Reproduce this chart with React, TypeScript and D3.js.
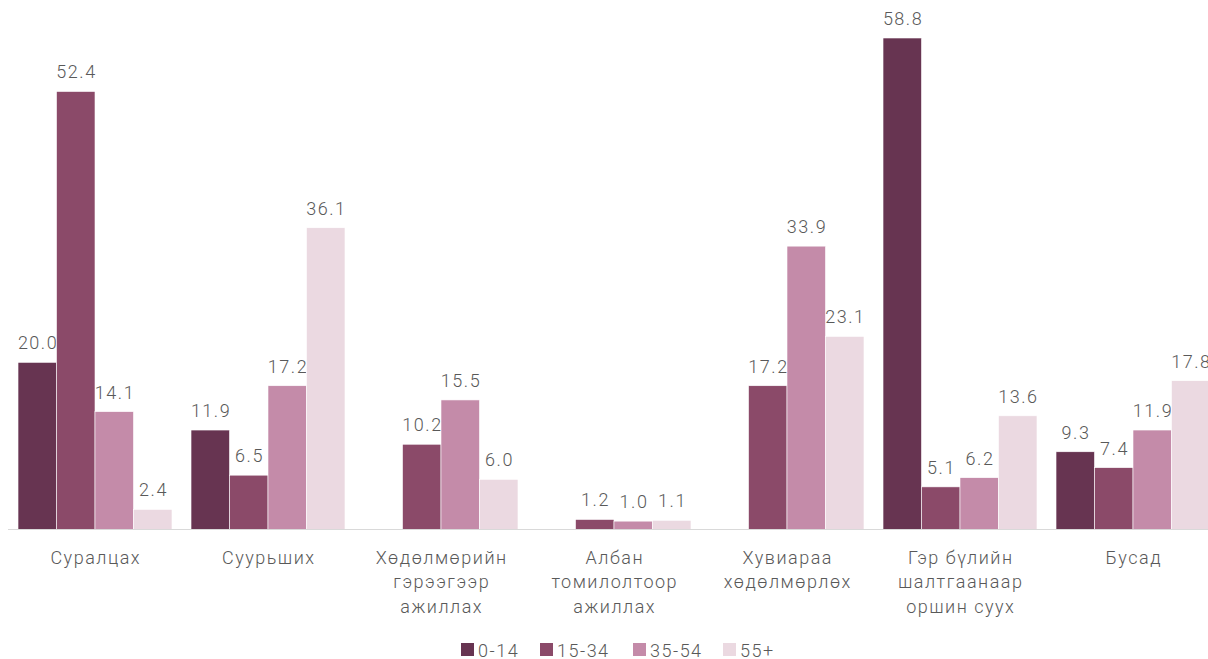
import React from "react";
import * as d3 from "d3";

const categories = [
  "Суралцах",
  "Суурьших",
  "Хөдөлмөрийн\nгэрээгээр\nажиллах",
  "Албан\nтомилолтоор\nажиллах",
  "Хувиараа\nхөдөлмөрлөх",
  "Гэр бүлийн\nшалтгаанаар\nоршин суух",
  "Бусад",
];
const seriesNames = ["0-14", "15-34", "35-54", "55+"];
const s0_14: (number | null)[] = [20.0, 11.9, null, null, null, 58.8, 9.3];
const s15_34: (number | null)[] = [52.4, 6.5, 10.2, 1.2, 17.2, 5.1, 7.4];
const s35_54: (number | null)[] = [14.1, 17.2, 15.5, 1.0, 33.9, 6.2, 11.9];
const s55p: (number | null)[] = [2.4, 36.1, 6.0, 1.1, 23.1, 13.6, 17.8];
const seriesValues = [s0_14, s15_34, s35_54, s55p];
const colors = ["#673451", "#8b4a69", "#c48ba9", "#ebd9e1"];

const W = 1208;
const H = 659;
const FONT = "Roboto, 'DejaVu Sans', sans-serif";
const TEXT = "#595959";
const FS = 18;
const LS = 1.5;

export default function App() {
  const x = d3
    .scaleBand<string>()
    .domain(categories)
    .range([8.5, 1219.5])
    .paddingInner(0.11)
    .paddingOuter(0.055);
  const xs = d3
    .scaleBand<string>()
    .domain(seriesNames)
    .range([0, x.bandwidth()])
    .padding(0);
  const y = d3.scaleLinear().domain([0, 58.8]).range([529.5, 38]);

  const legendX = [461, 540, 633, 723];

  return (
    <svg
      width={W}
      height={H}
      style={{ position: "absolute", left: 0, top: 0, background: "#fff" }}
      fontFamily={FONT}
    >
      <rect x={0} y={0} width={W} height={H} fill="#fff" />
      {categories.map((c, ci) => (
        <g key={c} transform={`translate(${x(c)},0)`}>
          {seriesValues.map((vals, si) => {
            const v = vals[ci];
            if (v == null) return null;
            const bx = xs(seriesNames[si])!;
            return (
              <g key={si}>
                <rect
                  x={bx}
                  y={y(v)}
                  width={xs.bandwidth()}
                  height={y(0) - y(v)}
                  fill={colors[si]}
                  stroke="#fff"
                  strokeWidth={0.6}
                />
                <text
                  x={bx + xs.bandwidth() / 2 + LS / 2}
                  y={y(v) - 13}
                  textAnchor="middle"
                  fontSize={FS}
                  fontWeight={300}
                  letterSpacing={LS}
                  fill={TEXT}
                >
                  {v.toFixed(1)}
                </text>
              </g>
            );
          })}
        </g>
      ))}
      <line x1={8} x2={1208} y1={y(0)} y2={y(0)} stroke="#d9d9d9" strokeWidth={1.2} />
      {categories.map((c) => {
        const cx = x(c)! + x.bandwidth() / 2 + LS / 2;
        return (
          <text
            key={c}
            x={cx}
            y={563.5}
            textAnchor="middle"
            fontSize={FS}
            fontWeight={300}
            letterSpacing={LS}
            fill={TEXT}
          >
            {c.split("\n").map((line, i) => (
              <tspan key={i} x={cx} dy={i === 0 ? 0 : 24.5}>
                {line}
              </tspan>
            ))}
          </text>
        );
      })}
      {seriesNames.map((s, i) => (
        <g key={s}>
          <rect x={legendX[i]} y={643} width={13} height={13} fill={colors[i]} />
          <text
            x={legendX[i] + 17}
            y={656.5}
            fontSize={FS}
            fontWeight={300}
            letterSpacing={LS}
            fill={TEXT}
          >
            {s}
          </text>
        </g>
      ))}
    </svg>
  );
}
